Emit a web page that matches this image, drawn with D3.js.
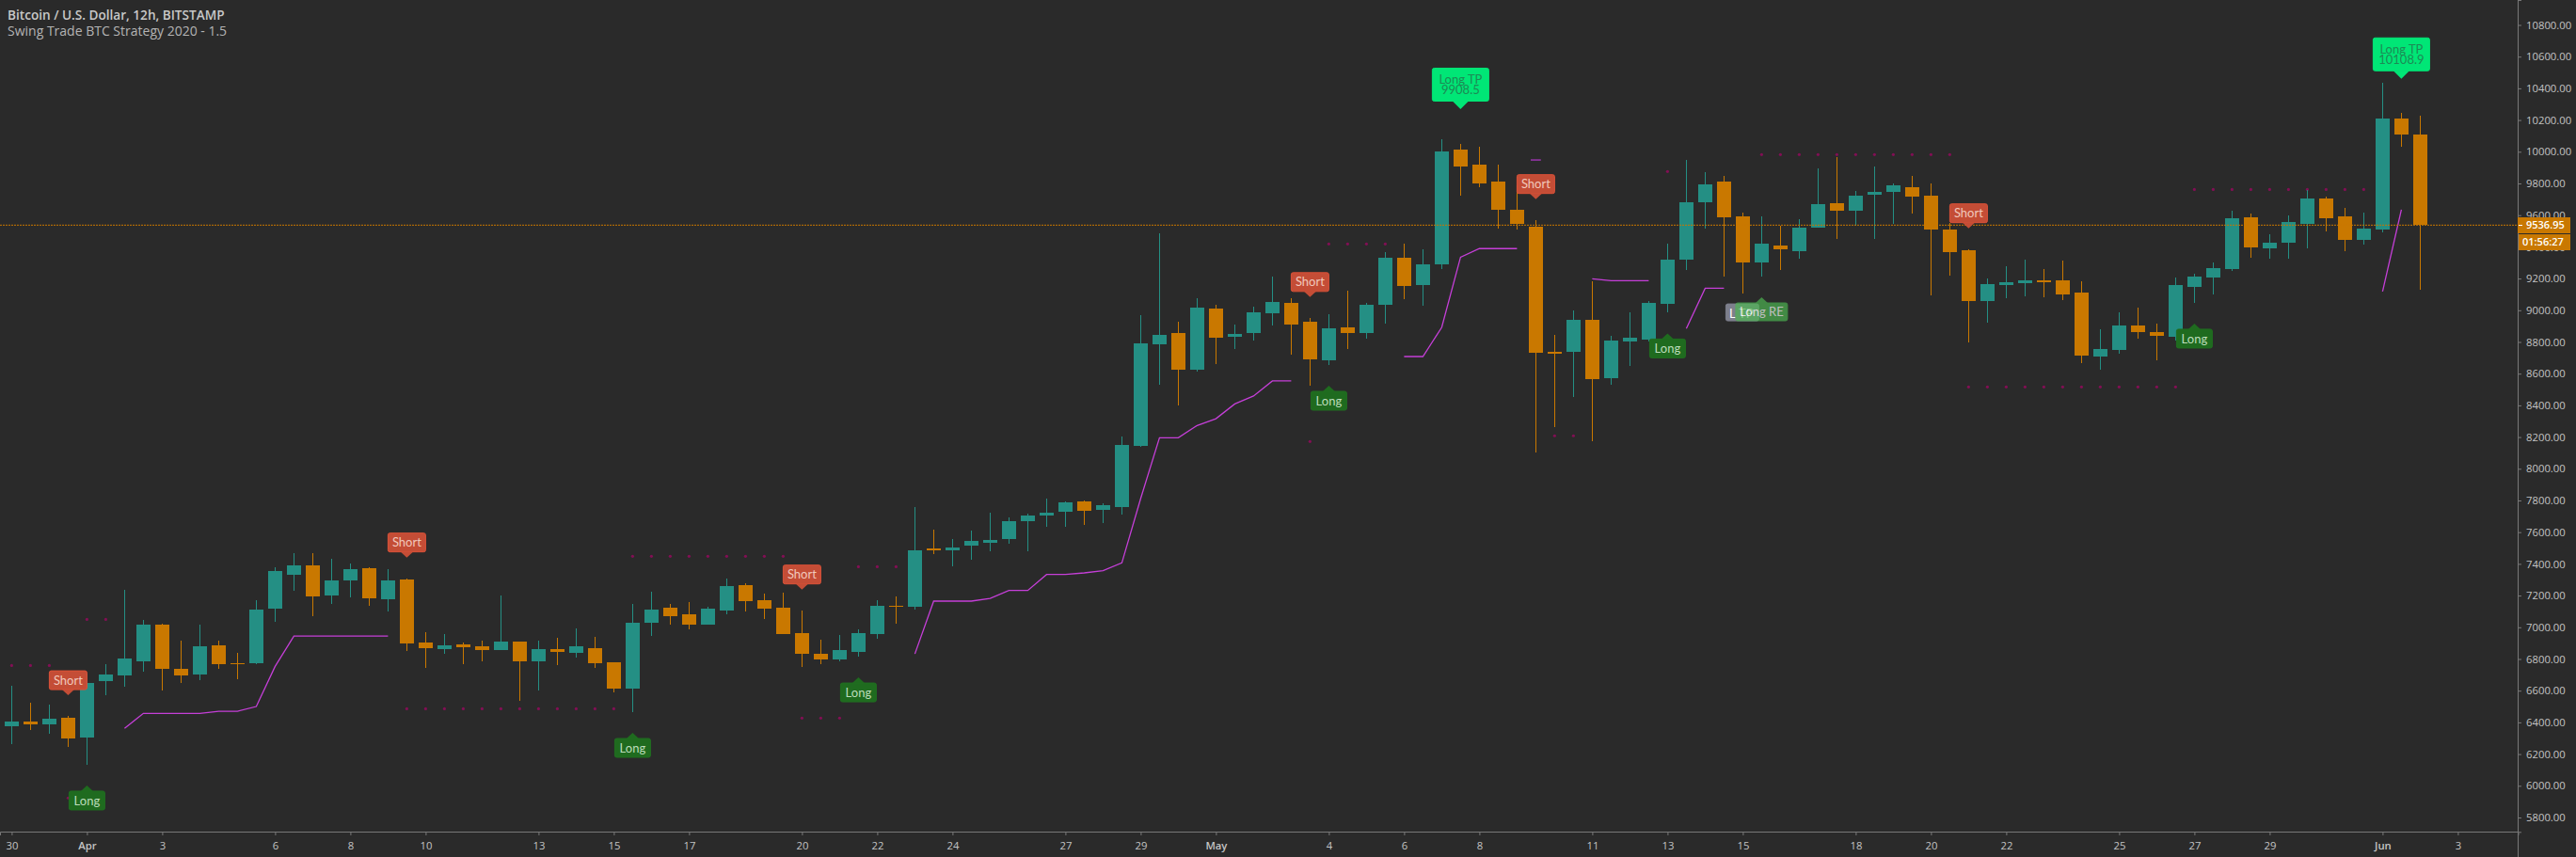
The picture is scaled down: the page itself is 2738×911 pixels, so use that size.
<!DOCTYPE html>
<html><head><meta charset="utf-8">
<script src="https://cdn.jsdelivr.net/npm/d3@7"></script>
<style>
html,body{margin:0;padding:0;background:#2a2a2a;overflow:hidden}
svg{display:block}
text{font-family:"Open Sans",sans-serif}
</style></head><body><svg id="c" width="2738" height="911"></svg>
<script>
const opens=[6376,6405,6387,6429,6304,6660,6696,6785,7016,6738,
6702,6886,6773,6773,7117,7331,7390,7200,7295,7373,
7177,7301,6904,6862,6892,6880,6856,6910,6785,6862,
6838,6868,6779,6613,7028,7123,7082,7016,7105,7266,
7171,7123,6963,6832,6797,6844,6957,7135,7129,7497,
7485,7515,7533,7557,7670,7705,7729,7794,7741,7759,
8144,8785,8856,8625,9011,8833,8856,8981,9046,8928,
8684,8892,8856,9034,9331,9159,9290,10014,9919,9812,
9634,9527,8738,8738,8940,8572,8803,8815,9040,9319,
9681,9812,9592,9302,9408,9373,9521,9675,9628,9729,
9747,9776,9723,9509,9379,9058,9159,9171,9189,9189,
9112,8708,8750,8904,8862,8833,9147,9207,9260,9586,
9391,9426,9545,9705,9592,9444,9509,10210,10109];
const closes=[6405,6387,6423,6298,6649,6702,6803,7016,6738,6696,
6880,6767,6767,7111,7355,7390,7195,7295,7367,7183,
7295,6898,6868,6886,6874,6856,6910,6785,6862,6844,
6880,6773,6613,7028,7111,7070,7016,7117,7260,7165,
7117,6957,6832,6797,6856,6963,7135,7129,7485,7485,
7503,7545,7551,7670,7705,7723,7788,7735,7770,8150,
8791,8845,8625,9017,8827,8850,8987,9052,8910,8690,
8886,8856,9034,9331,9153,9290,10002,9907,9800,9634,
9545,8732,8726,8940,8566,8809,8827,9046,9319,9681,
9794,9586,9302,9420,9385,9521,9669,9628,9723,9747,
9788,9717,9509,9367,9058,9165,9177,9189,9177,9100,
8714,8756,8904,8862,8839,9159,9213,9266,9580,9397,
9426,9557,9705,9580,9444,9515,10210,10109,9537];
const highs=[6631,6524,6512,6441,6708,6767,7236,7046,7022,6916,
7016,6916,6838,7171,7378,7467,7467,7432,7402,7378,
7367,7307,6969,6957,6904,6916,7200,6910,6916,6933,
6993,6939,6779,7147,7224,7147,7159,7129,7307,7278,
7212,7218,7105,6921,6951,6987,7171,7194,7758,7616,
7556,7610,7723,7693,7717,7812,7794,7800,7782,8204,
8969,9485,8928,9076,9034,8910,9023,9212,9076,8951,
8975,9123,9046,9367,9420,9385,10079,10049,10031,9919,
9790,9569,8845,8999,9183,8839,8987,9058,9420,9948,
9871,9847,9616,9592,9533,9575,9895,9966,9753,9907,
9800,9847,9800,9553,9385,9201,9278,9319,9260,9314,
9183,8880,8987,9017,8916,9207,9230,9302,9628,9610,
9480,9598,9759,9717,9646,9616,10435,10245,10227];
const lows=[6265,6352,6328,6245,6132,6571,6625,6720,6601,6649,
6666,6738,6672,6767,7034,7230,7070,7147,7189,7135,
7100,6850,6744,6833,6767,6785,6856,6536,6601,6761,
6809,6743,6589,6465,6945,7016,6987,7016,7082,7100,
7052,6957,6749,6767,6785,6815,6927,7022,7111,7461,
7384,7426,7480,7527,7480,7634,7634,7646,7658,7711,
8138,8530,8400,8613,8661,8755,8809,8904,8720,8524,
8655,8755,8821,8916,9070,9029,9260,9723,9776,9515,
9509,8103,8263,8453,8174,8530,8649,8803,8987,9254,
9515,9213,9106,9213,9254,9325,9521,9450,9533,9450,
9545,9610,9094,9218,8797,8922,9076,9088,9082,9064,
8667,8625,8726,8821,8684,8809,9046,9100,9248,9331,
9325,9325,9391,9497,9373,9414,9492,10032,9130];

// trailing-stop line pieces: first bar index, then one price per bar
const stopStarts=[6,48,74,84,89,126];
const stopPieces=[
 [6362,6457,6457,6457,6457,6470,6470,6500,6753,6945,6945,6945,6945,6945,6945],
 [6832,7165,7165,7165,7182,7232,7232,7333,7333,7343,7357,7406,7812,8196,8196,8273,8316,8409,8459,8554,8554],
 [8708,8708,8892,9335,9389,9389,9389],
 [9199,9187,9187,9187],
 [8884,9139,9139],
 [9118,9634]];
const stopDash=[81,9948];

// stop dots: first bar, last bar, price
const dotFrom=[0,4,3,21,33,42,45,70,69,82,88,93,104,116];
const dotTo=[2,5,3,32,41,44,47,73,69,83,88,103,115,125];
const dotPrice=[6759,7050,5923,6486,7448,6427,7382,9418,8172,8208,9875,9982,8516,9762];

const shortBars=[3,21,42,69,81,104];
const shortTips=[6571,7440,7238,9083,9701,9517];
const longBars=[4,33,45,70,88,116];
const longTips=[6002,6334,6684,8524,8854,8916];
const tpBars=[77,127];
const tpTips=[10269,10460];
const tpLevels=["9908.5","10108.9"];
const reBar=93, reTip=9082, greyBar=92, greyTip=9040;

const priceTicks=d3.range(5800,10801,200);
const timeTickBars=[0,4,8,14,18,22,28,32,36,42,46,50,56,60,64,70,74,78,84,88,92,98,102,106,112,116,120,126,130];
const timeTickLabels=["30","Apr","3","6","8","10","13","15","17","20","22","24","27","29","May","4","6","8","11","13","15","18","20","22","25","27","29","Jun","3"];
const lastPrice=9536.95, countdown="01:56:27";
const titleLine="Bitcoin / U.S. Dollar, 12h, BITSTAMP", subtitleLine="Swing Trade BTC Strategy 2020 - 1.5";

const UP="#248f84",DOWN="#c97800",AXIS="#787878",TXT="#c4c4c4";
const x=d3.scaleLinear().domain([-0.62,133.2]).range([0,2676.4]);
const y=d3.scaleLinear().domain([5709.2,10957.3]).range([884.3,0]);
const svg=d3.select("#c");
svg.append("rect").attr("width",2738).attr("height",911).attr("fill","#2a2a2a");

// dots
const dots=[];
dotFrom.forEach((f,k)=>{for(let i=f;i<=dotTo[k];i++)dots.push([i,dotPrice[k]]);});
svg.append("g").selectAll("circle").data(dots).join("circle")
 .attr("cx",d=>x(d[0])).attr("cy",d=>y(d[1])).attr("r",1.6).attr("fill","#820f54");

// candles
const bars=d3.range(opens.length);
const col=i=>closes[i]>=opens[i]?UP:DOWN;
const cg=svg.append("g").attr("shape-rendering","crispEdges");
cg.selectAll("rect.w").data(bars).join("rect").attr("class","w")
 .attr("x",i=>Math.floor(x(i))).attr("width",1)
 .attr("y",i=>y(highs[i])).attr("height",i=>y(lows[i])-y(highs[i])).attr("fill",col);
cg.selectAll("rect.b").data(bars).join("rect").attr("class","b")
 .attr("x",i=>Math.floor(x(i))-7).attr("width",15)
 .attr("y",i=>y(Math.max(opens[i],closes[i])))
 .attr("height",i=>Math.max(1,y(Math.min(opens[i],closes[i]))-y(Math.max(opens[i],closes[i]))))
 .attr("fill",col);

// stop line
const line=d3.line().x(d=>x(d[0])).y(d=>y(d[1]));
stopPieces.forEach((vals,k)=>{
 svg.append("path").attr("d",line(vals.map((v,j)=>[stopStarts[k]+j,v])))
  .attr("fill","none").attr("stroke","#c53fd8").attr("stroke-width",1.3);
});
svg.append("path").attr("d",line([[stopDash[0]-.27,stopDash[1]],[stopDash[0]+.27,stopDash[1]]]))
 .attr("fill","none").attr("stroke","#9a35ad").attr("stroke-width",1.5);

// last price line
svg.append("line").attr("x1",0).attr("x2",2676).attr("y1",y(lastPrice)).attr("y2",y(lastPrice))
 .attr("stroke",DOWN).attr("stroke-width",1).attr("stroke-dasharray","2,1");

// labels
function label(cx,tipY,w,h,dir,tw,th,fill,stroke,lines,color,opacity){
 const g=svg.append("g").attr("opacity",opacity||1);
 const top=dir<0?tipY-th-h:tipY+th, bot=top+h;
 g.append("rect").attr("x",cx-w/2).attr("y",top).attr("width",w).attr("height",h).attr("rx",2)
  .attr("fill",fill).attr("stroke",stroke).attr("stroke-width",1);
 const base=dir<0?bot:top;
 g.append("path").attr("d",`M${cx-tw/2},${base}L${cx},${tipY}L${cx+tw/2},${base}Z`).attr("fill",fill);
 lines.forEach((t,k)=>{
  const cy=(top+bot)/2+(k-(lines.length-1)/2)*11;
  g.append("text").attr("x",cx).attr("y",cy).attr("dy","0.35em").attr("text-anchor","middle")
   .style("font-family","Lato, sans-serif").attr("font-size",13).attr("fill",color).text(t);
 });
}
shortBars.forEach((b,k)=>label(x(b),y(shortTips[k]),40,20,-1,13,6,"#c44d36","#dd5238",["Short"],"#f1c8bc"));
longBars.forEach((b,k)=>label(x(b),y(longTips[k]),38,20,1,13,6,"#1f6b1f","#206f20",["Long"],"#bcdcba"));
tpBars.forEach((b,k)=>label(x(b),y(tpTips[k]),60,35,-1,17,8.5,"#00e676","#00e676",["Long TP",tpLevels[k]],"#1d8a55"));
label(x(greyBar)-0.5,y(greyTip),35,18,1,0,0,"#7d7f8c","#7d7f8c",[],"#fff");
svg.append("text").attr("x",1838).attr("y",333).attr("dy","0.35em").style("font-family","Lato, sans-serif").attr("font-size",13).attr("fill","#fff").text("L");
svg.append("text").attr("x",1848).attr("y",333).attr("dy","0.35em").style("font-family","Lato, sans-serif").attr("font-size",13).attr("fill","#fff").text("TP");
label(x(reBar),y(reTip),55,19,1,13,6,"rgb(77,181,82)","rgb(77,181,82)",["Long RE"],"#fff",0.69);

// axes
const yAxis=d3.axisRight(y).tickValues(priceTicks).tickSize(4).tickPadding(5).tickFormat(d3.format(".2f"));
const gy=svg.append("g").attr("transform","translate(2676,0)").call(yAxis);
const xAxis=d3.axisBottom(x).tickValues(timeTickBars).tickSize(4).tickPadding(7).tickFormat((d,i)=>timeTickLabels[i]);
const gx=svg.append("g").attr("transform","translate(0,884)").call(xAxis);
[gy,gx].forEach(g=>{
 g.select(".domain").attr("stroke",AXIS);
 g.selectAll(".tick line").attr("stroke",AXIS);
 g.selectAll("text").attr("fill",TXT).style("font-size","11.3px").style("font-family","Open Sans, sans-serif");
});
gx.selectAll("text").filter((d,i)=>/[A-Za-z]/.test(timeTickLabels[i])).style("font-weight",600);
svg.append("line").attr("x1",2676.5).attr("x2",2676.5).attr("y1",0).attr("y2",911).attr("stroke",AXIS);
// price tag + countdown
svg.append("rect").attr("x",2676).attr("y",231).attr("width",56).attr("height",17).attr("fill",DOWN);
svg.append("rect").attr("x",2677).attr("y",249).attr("width",55).attr("height",17).attr("fill",DOWN);
svg.append("line").attr("x1",2677).attr("x2",2681).attr("y1",239.5).attr("y2",239.5).attr("stroke","#fff");
svg.append("text").attr("x",2685).attr("y",239.5).attr("dy","0.35em").attr("fill","#fff").attr("font-size",11).attr("font-weight",600).text(d3.format(".2f")(lastPrice));
svg.append("text").attr("x",2681).attr("y",257.5).attr("dy","0.35em").attr("fill","#fff").attr("font-size",11).attr("font-weight",600).text(countdown);

// titles
svg.append("text").attr("x",8).attr("y",16).attr("dy","0.35em").attr("fill","#c8c8c8").attr("font-size",13.6).attr("font-weight",600).text(titleLine);
svg.append("text").attr("x",8).attr("y",33.5).attr("dy","0.35em").attr("fill","#b4b4b4").attr("font-size",14).text(subtitleLine);
</script></body></html>
